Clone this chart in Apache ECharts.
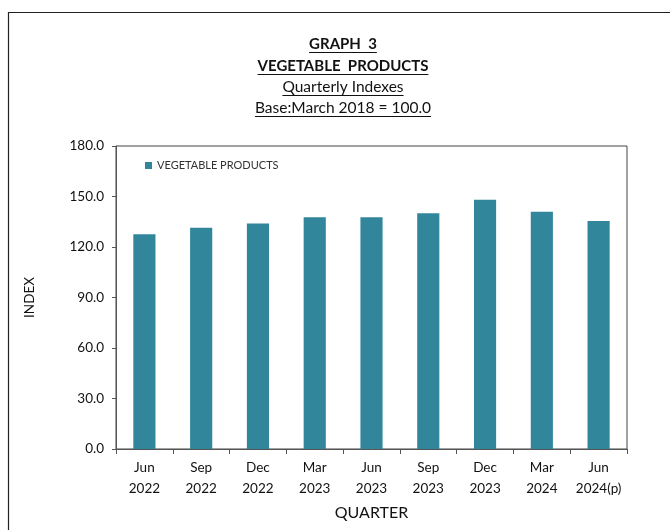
<!DOCTYPE html>
<html><head><meta charset="utf-8">
<script src="https://cdn.jsdelivr.net/npm/echarts@6/dist/echarts.min.js"></script>
<style>html,body{margin:0;padding:0;background:#fff}#c{width:670px;height:530px}</style>
</head><body><div id="c"></div>
<script>
const categories = ['Jun\n2022','Sep\n2022','Dec\n2022','Mar\n2023','Jun\n2023','Sep\n2023','Dec\n2023','Mar\n2024','Jun\n2024(p)'];
const vegetableProducts = [127.6, 131.5, 133.9, 137.7, 137.7, 140.0, 148.1, 141.0, 135.5];
const titleLines = ['GRAPH  3', 'VEGETABLE  PRODUCTS', 'Quarterly Indexes', 'Base:March 2018 = 100.0'];
const seriesName = 'VEGETABLE PRODUCTS';

const FONT = 'Lato, "Open Sans", sans-serif';
const chart = echarts.init(document.getElementById('c'), null, {renderer:'canvas'});

const titleY = [44, 66, 87, 108];
const titleFont = ['bold 15px '+FONT, 'bold 15px '+FONT, '15.5px '+FONT, '15.5px '+FONT];
const ctx = document.createElement('canvas').getContext('2d');
const graphics = [
  {type:'rect', shape:{x:8.5, y:12.5, width:700, height:600}, style:{fill:'none', stroke:'#222', lineWidth:1.2}, silent:true}
];
titleLines.forEach((t, i) => {
  ctx.font = titleFont[i];
  const w = ctx.measureText(t).width;
  graphics.push({type:'text', x:343, y:titleY[i], style:{text:t, fill:'#111', font:titleFont[i], textAlign:'center', textVerticalAlign:'middle'}});
  graphics.push({type:'line', shape:{x1:343-w/2, y1:titleY[i]+8.5, x2:343+w/2, y2:titleY[i]+8.5}, style:{stroke:'#111', lineWidth:1}});
});

chart.setOption({
  animation:false,
  backgroundColor:'#fff',
  graphic: graphics,
  legend:{
    left:140, top:155, itemWidth:7, itemHeight:7, itemGap:5, icon:'rect',
    textStyle:{fontSize:11, color:'#333', fontFamily:FONT},
    data:[seriesName]
  },
  grid:{left:116, top:146, right:43, bottom:81, show:true, borderColor:'#444', borderWidth:1},
  xAxis:{
    type:'category', data:categories,
    name:'QUARTER', nameLocation:'middle', nameGap:56,
    nameTextStyle:{fontSize:16, color:'#111', fontFamily:FONT},
    axisLine:{lineStyle:{color:'#555'}},
    axisTick:{show:true, length:5, lineStyle:{color:'#555'}},
    axisLabel:{interval:0, fontSize:13.5, color:'#111', fontFamily:FONT, lineHeight:21, margin:8}
  },
  yAxis:{
    type:'value', min:0, max:180, interval:30,
    name:'INDEX', nameLocation:'middle', nameGap:79, nameRotate:90,
    nameTextStyle:{fontSize:13.5, color:'#111', fontFamily:FONT},
    axisLine:{show:true, lineStyle:{color:'#555'}},
    axisTick:{show:true, length:4, lineStyle:{color:'#555'}},
    splitLine:{show:false},
    axisLabel:{fontSize:13.5, color:'#111', fontFamily:FONT, margin:12, formatter:v=>v.toFixed(1)}
  },
  series:[{
    name:seriesName, type:'bar', data:vegetableProducts,
    barWidth:'39%', itemStyle:{color:'#31869B'}
  }]
});
</script></body></html>
